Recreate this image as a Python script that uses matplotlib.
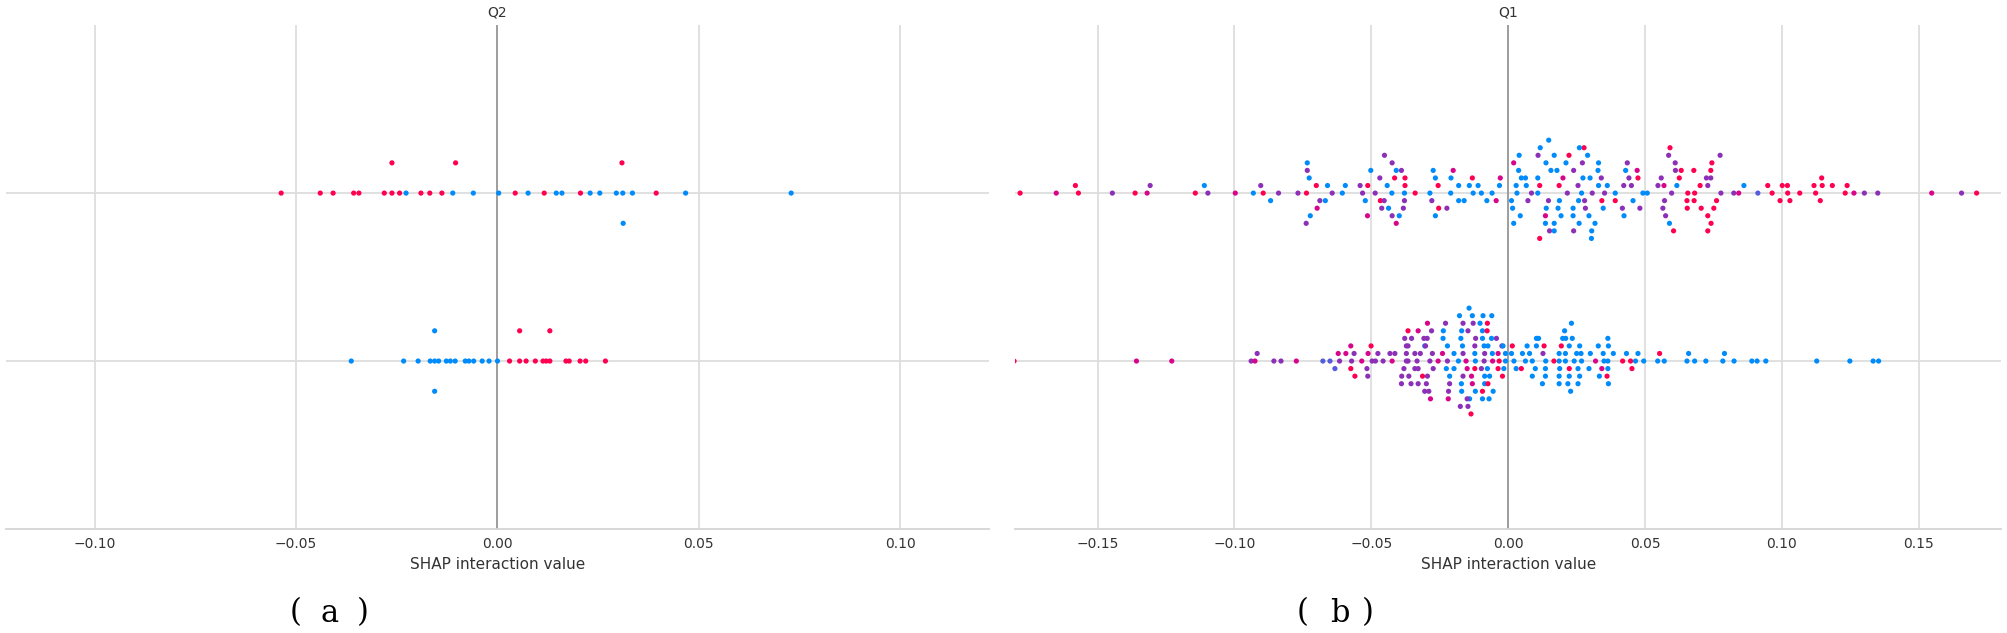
import numpy as np
import matplotlib
matplotlib.use("Agg")
import matplotlib.pyplot as plt
from matplotlib.colors import LinearSegmentedColormap

# ---- data (SHAP interaction values, colour code = feature value) ----
# b blue (low), v blue-violet, p purple, m magenta, r red (high)
# listed inner layer first, then upper / lower layers of each swarm

# (a) Q2, upper row
q2_top_x = [
    -0.0537, -0.0440, -0.0408, -0.0357, -0.0344, -0.0281, -0.0262, -0.0243,
    -0.0227, -0.0190, -0.0168, -0.0138, -0.0111, -0.0060, 0.0003, 0.0044,
    0.0076, 0.0116, 0.0146, 0.0160, 0.0206, 0.0230, 0.0254, 0.0295, 0.0311,
    0.0335, 0.0394, 0.0467, 0.0729,
    -0.0262, -0.0104, 0.0309,
    0.0312,
]
q2_top_c = "rrrrrrrrbrrrbbbrbrbbrbbbbbrbb" + "rrr" + "b"

# (a) Q2, lower row
q2_bot_x = [
    -0.0363, -0.0233, -0.0197, -0.0167, -0.0156, -0.0146, -0.0127, -0.0117,
    -0.0105, -0.0080, -0.0071, -0.0059, -0.0038, -0.0021, 0.0000,
    0.0030, 0.0055, 0.0071, 0.0094, 0.0113, 0.0121, 0.0130, 0.0170, 0.0178,
    0.0205, 0.0219, 0.0268,
    -0.0156, 0.0055, 0.0130,
    -0.0156,
]
q2_bot_c = "bbbbbbbbbbbbbbb" + "rrrrrrrrrrrr" + "brr" + "b"

# (b) Q1, upper row
q1_top_x = [
    # 0
    -0.1783, -0.1651, -0.1570, -0.1446, -0.1363, -0.1319, -0.1143, -0.1097, -0.0997, -0.0931,
    -0.0895, -0.0839, -0.0737, -0.0701, -0.0643, -0.0532, -0.0425, -0.0379, -0.0286, -0.0256,
    -0.0210, -0.0098, -0.0059,
    0.0032, 0.0085, 0.0108, 0.0216, 0.0268, 0.0307, 0.0391, 0.0422, 0.0492, 0.0597, 0.0656,
    0.0681, 0.0701, 0.0777, 0.0824,
    0.0912, 0.0948, 0.1021, 0.1065, 0.1117, 0.1231, 0.1301, 0.1350, 0.1547, 0.1656, 0.1711,
    # +1
    -0.1581, -0.1308, -0.1110,
    -0.0904, -0.0768, -0.0688, -0.0606, -0.0541, -0.0486, -0.0442, -0.0377, -0.0279, -0.0266,
    -0.0181, -0.0128, -0.0032,
    0.0029, 0.0066, 0.0115, 0.0186, 0.0255, 0.0330, 0.0391, 0.0450, 0.0508, 0.0547, 0.0616,
    0.0729, 0.0761, 0.0842, 0.0861,
    0.0964, 0.1020, 0.1123, 0.1184, 0.1263,
    # -1
    -0.0868, -0.0727, -0.0698, -0.0595, -0.0513, -0.0467, -0.0379, -0.0340, -0.0254, -0.0181,
    -0.0110, -0.0044,
    0.0012, 0.0048, 0.0147, 0.0187, 0.0257, 0.0279, 0.0352, 0.0362, 0.0441, 0.0569, 0.0653,
    0.0679, 0.0740,
    0.1001, 0.1147, 0.1238,
    # +2
    -0.0734, -0.0660, -0.0469, -0.0462, -0.0377, -0.0274, -0.0209, -0.0142, -0.0029,
    0.0016, 0.0072, 0.0108, 0.0200, 0.0273, 0.0299, 0.0417, 0.0571, 0.0625, 0.0724, 0.0751,
    0.1029, 0.1140,
    # -2
    -0.0723, -0.0668, -0.0522, -0.0453, -0.0383, -0.0224, -0.0161, -0.0131, -0.0078,
    0.0038, 0.0044, 0.0139, 0.0182, 0.0282, 0.0328, 0.0429, 0.0559, 0.0654, 0.0705, 0.0740,
    0.0993, 0.1145,
    # +3
    -0.0734, -0.0502, -0.0415, -0.0390, -0.0266, -0.0201,
    0.0020, 0.0063, 0.0156, 0.0178, 0.0237, 0.0295, 0.0456, 0.0565, 0.0611, 0.0729, 0.0744,
    # -3
    -0.0738, -0.0514, -0.0437, -0.0398,
    0.0020, 0.0040, 0.0136, 0.0193, 0.0239, 0.0330, 0.0474, 0.0575, 0.0610, 0.0678, 0.0741,
    0.0774,
    # +4 / -4
    -0.0409, 0.0138, 0.0211, 0.0237, 0.0342, 0.0423, 0.0481, 0.0589, 0.0632, 0.0729,
    -0.0424, 0.0136, 0.0168, 0.0271, 0.0317, 0.0471, 0.0586,
    # +5 / -5
    -0.0424, 0.0109, 0.0168, 0.0259, 0.0340, 0.0604,
    -0.0409, 0.0151, 0.0168, 0.0290, 0.0347, 0.0435, 0.0591,
    # +6 / -6 / +7
    -0.0452, 0.0117, 0.0222, 0.0239, 0.0305,
    0.0115, 0.0277, 0.0304,
    0.0148, 0.0260,
]
q1_top_c = (
    "rmrprmrpmb" "rprrppbbbrbbb" "bpbpbpbpbprrrpp" "vrrrrrppmpr"
    "rpb" "pppbppbrpbbbb" "bbrrpbrpbpbprmb" "rrrrm"
    "bbmbrrprrbbm" "bbpbbppbpmrrp" "rrr"
    "pbpprbbbm" "bpbmbbpprpr" "rr"
    "bbbpppbrb" "bbbbpbbprrr" "rr"
    "bbrpbm" "mbbbbbbpprr"
    "pmbb" "bbmbpbrpprrp"
    "bbbbrbpbrr" "pbbpbmp"
    "ppbbpr" "mpbbbpr"
    "pbrpb" "rrb" "bb"
)

# (b) Q1, lower row
q1_bot_x = [
    # 0
    -0.1805, -0.1358, -0.1229, -0.0939, -0.0925,
    -0.0856, -0.0830, -0.0774, -0.0677, -0.0651, -0.0616, -0.0572, -0.0535, -0.0497, -0.0485,
    -0.0457, -0.0424, -0.0372, -0.0366, -0.0333, -0.0321, -0.0286, -0.0256, -0.0222, -0.0182,
    -0.0154, -0.0120, -0.0088, -0.0057,
    -0.0010, 0.0021, 0.0088, 0.0137, 0.0186, 0.0209, 0.0241, 0.0268, 0.0319, 0.0350, 0.0364,
    0.0418, 0.0447, 0.0465, 0.0495, 0.0546, 0.0570, 0.0653, 0.0681, 0.0722, 0.0784, 0.0825,
    0.0890, 0.0909, 0.0941, 0.1127, 0.1248, 0.1333, 0.1353,
    # +1
    -0.0917,
    -0.0621, -0.0593, -0.0563, -0.0512, -0.0476, -0.0432, -0.0414, -0.0372, -0.0341, -0.0329,
    -0.0305, -0.0277, -0.0240, -0.0198, -0.0165, -0.0122, -0.0086, -0.0058, -0.0033,
    0.0012, 0.0063, 0.0078, 0.0127, 0.0136, 0.0186, 0.0209, 0.0250, 0.0266, 0.0295, 0.0347,
    0.0384, 0.0432, 0.0474, 0.0553, 0.0659, 0.0790,
    # -1
    -0.0633, -0.0575, -0.0516, -0.0381, -0.0341, -0.0313, -0.0274, -0.0226, -0.0198, -0.0150,
    -0.0122, -0.0098, -0.0076, -0.0037,
    -0.0010, 0.0029, 0.0052, 0.0099, 0.0131, 0.0167, 0.0188, 0.0223, 0.0255, 0.0300, 0.0342,
    0.0364, 0.0452,
    # +2
    -0.0575, -0.0501, -0.0372, -0.0366, -0.0308, -0.0302, -0.0222, -0.0167, -0.0122, -0.0088,
    -0.0074,
    -0.0016, 0.0015, 0.0048, 0.0103, 0.0136, 0.0194, 0.0261, 0.0329, 0.0366,
    # -2
    -0.0560, -0.0513, -0.0389, -0.0363, -0.0329, -0.0295, -0.0214, -0.0165, -0.0134, -0.0119,
    -0.0086, -0.0037,
    -0.0023, 0.0069, 0.0088, 0.0111, 0.0186, 0.0223, 0.0261, 0.0333, 0.0361,
    # +3
    -0.0378, -0.0353, -0.0329, -0.0296, -0.0238, -0.0173, -0.0131, -0.0094, -0.0068,
    -0.0021, 0.0103, 0.0125, 0.0199, 0.0234, 0.0364,
    # -3
    -0.0390, -0.0355, -0.0299, -0.0214, -0.0171, -0.0147, -0.0120, -0.0086, -0.0043,
    -0.0019, 0.0186, 0.0223, 0.0255, 0.0366,
    # +4 / -4
    -0.0366, -0.0305, -0.0280, -0.0237, -0.0170, -0.0128, -0.0094, -0.0061, 0.0210,
    -0.0290, -0.0218, -0.0170, -0.0141, -0.0094, -0.0074, 0.0218,
    # +5 / -5
    -0.0295, -0.0229, -0.0165, -0.0103, -0.0077, 0.0206,
    -0.0284, -0.0219, -0.0150, -0.0131, -0.0094, -0.0055, 0.0228,
    # +6 / -6 / +7
    -0.0178, -0.0147, -0.0092, -0.0076, 0.0231,
    -0.0175, -0.0143, -0.0070,
    -0.0136, -0.0060,
]
q1_bot_c = (
    "rmmpm" "ppmvvppmpppmpppppmpbmbpm" "bbbbbbbbmbbrrbbbbbbbbb" "bbbbbbb"
    "p" "mmpmppppppbpmbpbpbr" "bbbpbbbbbbbbbbrbb"
    "vrppprpbbmrpbm" "bbbbrrbrbbmbr"
    "mrppppbbpbb" "brrbbrbbb"
    "rpppppbpmpbr" "pbbbbbbbr"
    "ppmpbbmbb" "rbbbbb"
    "ppppbpbbp" "bbbbb"
    "rppbbpbbb" "ppbbrrb"
    "mppbrb" "mmpbbbb"
    "bpbrb" "pbb" "rb"
)

q2_ticks = [-0.10, -0.05, 0.00, 0.05, 0.10]
q1_ticks = [-0.15, -0.10, -0.05, 0.00, 0.05, 0.10, 0.15]

code_val = {"b": 0.0, "v": 0.28, "p": 0.45, "m": 0.72, "r": 1.0}
cmap = LinearSegmentedColormap.from_list(
    "red_blue", ["#008bfb", "#4c63e3", "#9c23ac", "#e00086", "#ff0051"])


def swarm(xs, nbins=100, row_height=0.4):
    # same stacking as shap's summary plot: bin the values, pile each bin up
    xs = np.asarray(xs)
    quant = np.round(nbins * (xs - xs.min()) / (xs.max() - xs.min() + 1e-8))
    ys = np.zeros(len(xs))
    layer, last = 0, -1
    for i in np.argsort(quant, kind="stable"):
        if quant[i] != last:
            layer = 0
        ys[i] = np.ceil(layer / 2) * ((layer % 2) * 2 - 1)
        layer += 1
        last = quant[i]
    return ys * 0.9 * (row_height / np.max(ys + 1))


def panel(ax, rows, lim, ticks, title):
    for pos, (xs, cs, nb) in enumerate(rows):
        assert len(xs) == len(cs)
        ax.axhline(pos, color="#dddddd", lw=1.3, zorder=1)
        ax.scatter(xs, pos + swarm(xs, nb), c=[code_val[c] for c in cs], cmap=cmap,
                   vmin=0, vmax=1, s=14, linewidths=0, zorder=3)
    ax.axvline(0, color="#999999", lw=1.3, zorder=2)
    ax.set_xlim(-lim, lim)
    ax.set_ylim(-1, 2)
    ax.set_xticks(ticks)
    ax.set_yticks([])
    ax.xaxis.grid(True, color="#dddddd", lw=1.3)
    ax.set_axisbelow(True)
    for s in ["top", "left", "right"]:
        ax.spines[s].set_visible(False)
    ax.spines["bottom"].set_color("#d4d4d4")
    ax.spines["bottom"].set_linewidth(1.3)
    ax.tick_params(axis="x", length=0, pad=6, labelsize=10, labelcolor="#333333")
    ax.set_xlabel("SHAP interaction value", fontsize=11, color="#333333", labelpad=4)
    ax.set_title(title, fontsize=10, color="#333333", pad=6)


def tag(x_l, x_m, x_r, letter):
    y = 1 - 613 / 633
    for x, s in [(x_l, "("), (x_m, letter), (x_r, ")")]:
        fig.text(x / 2008, y, s, family="DejaVu Serif", fontsize=22,
                 ha="center", va="center")


fig = plt.figure(figsize=(20.08, 6.33), dpi=100)
ax1 = fig.add_axes([0.003, 0.1643, 0.4895, 0.796])
ax2 = fig.add_axes([0.5057, 0.1643, 0.4908, 0.796])

panel(ax1, [(q2_bot_x, q2_bot_c, 100), (q2_top_x, q2_top_c, 100)], 0.122, q2_ticks, "Q2")
panel(ax2, [(q1_bot_x, q1_bot_c, 100), (q1_top_x, q1_top_c, 62)], 0.18, q1_ticks, "Q1")

tag(296, 329.5, 363, "a")
tag(1303, 1340, 1368, "b")

fig.savefig("out.png", dpi=100)
